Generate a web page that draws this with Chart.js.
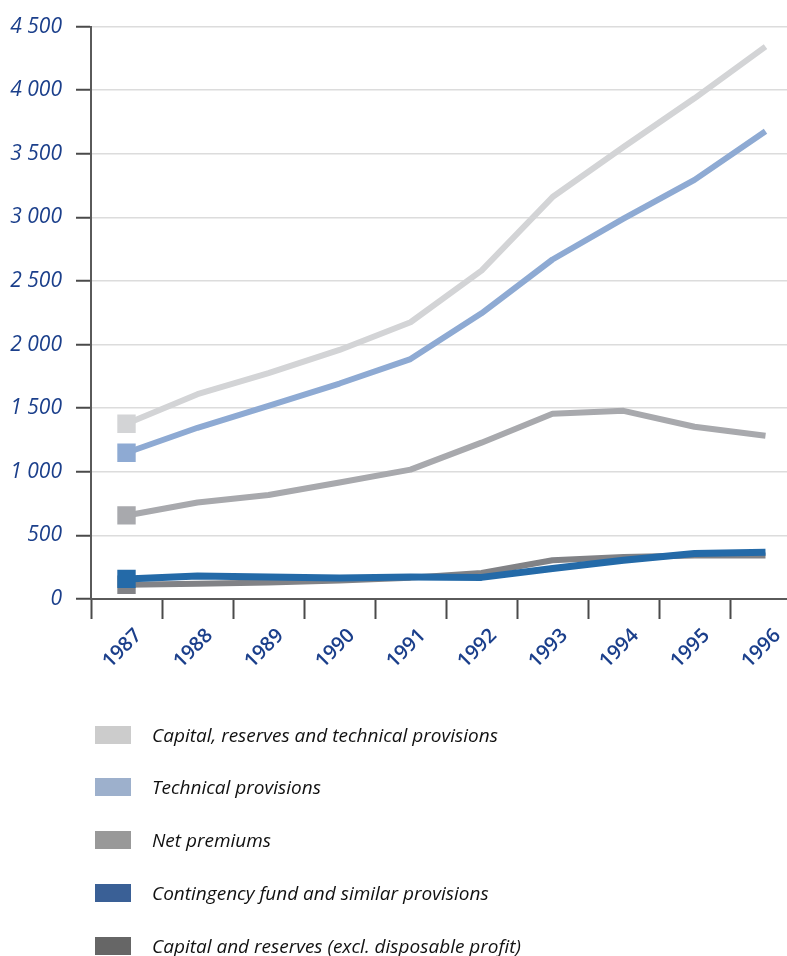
<!DOCTYPE html>
<html>
<head>
<meta charset="utf-8">
<script src="https://cdn.jsdelivr.net/npm/chart.js@4/dist/chart.umd.min.js"></script>
<style>
  html, body { margin: 0; padding: 0; background: #fff; overflow: hidden; width: 787px; height: 956px; }
  #wrap { position: absolute; left: 0; top: 0; width: 814px; height: 700px; }
  #legend { position: absolute; left: 0; top: 0; width: 787px; height: 956px; pointer-events: none; }
  .item { position: absolute; left: 95px; height: 18px; }
  .box { position: absolute; left: 0; top: 0; width: 36px; height: 18px; }
  .lab { position: absolute; left: 57px; top: -5px; white-space: nowrap; font-family: "Open Sans", sans-serif; font-style: italic; font-size: 19px; line-height: 28px; color: #111; }
</style>
</head>
<body>
<div id="wrap"><canvas id="c" width="814" height="700"></canvas></div>
<div id="legend"></div>
<script>
const years = ["1987","1988","1989","1990","1991","1992","1993","1994","1995","1996"];
const yTickValues = [0, 500, 1000, 1500, 2000, 2500, 3000, 3500, 4000, 4500];
const yTickLabels = ["0", "500", "1 000", "1 500", "2 000", "2 500", "3 000", "3 500", "4 000", "4 500"];

const seriesNames = [
  "Capital, reserves and technical provisions",
  "Technical provisions",
  "Net premiums",
  "Contingency fund and similar provisions",
  "Capital and reserves (excl. disposable profit)"
];
const capitalReservesTechnical = [1378, 1610, 1776, 1958, 2176, 2582, 3160, 3553, 3936, 4343];
const technicalProvisions     = [1150, 1346, 1518, 1694, 1886, 2246, 2669, 2990, 3295, 3678];
const netPremiums             = [657, 759, 818, 916, 1017, 1229, 1456, 1479, 1354, 1283];
const contingencyFund         = [158, 180, 172, 165, 172, 170, 240, 305, 358, 368];
const capitalReserves         = [112, 120, 130, 145, 168, 205, 305, 330, 342, 342];

const lineColors   = ["#d3d4d6", "#8eaad3", "#a8a9ad", "#246aa8", "#818286"];
const legendColors = ["#cccccc", "#9db0cc", "#999999", "#3a6096", "#666666"];
const lineWidths   = [6, 6, 6, 7, 6];
const seriesData = [capitalReservesTechnical, technicalProvisions, netPremiums, contingencyFund, capitalReserves];

const datasets = seriesData.map((d, i) => ({
  label: seriesNames[i],
  data: d,
  borderColor: lineColors[i],
  backgroundColor: lineColors[i],
  borderWidth: lineWidths[i],
  borderCapStyle: 'butt',
  borderJoinStyle: 'round',
  tension: 0,
  pointStyle: 'rect',
  pointRadius: d.map((v, k) => k === 0 ? 13 : 0),
  pointBorderWidth: 0,
  pointHoverRadius: 0,
  fill: false
}));

new Chart(document.getElementById('c'), {
  type: 'line',
  data: { labels: years, datasets },
  options: {
    responsive: false,
    animation: false,
    events: [],
    layout: { padding: { top: 22, right: 2, bottom: 1, left: 0 } },
    plugins: { legend: { display: false }, tooltip: { enabled: false } },
    scales: {
      x: {
        offset: true,
        grid: { offset: true, drawOnChartArea: false, drawTicks: true, tickLength: 20, tickColor: '#4a4a4a', tickWidth: 2 },
        border: { display: true, color: '#5a5a5a', width: 2 },
        ticks: {
          autoSkip: false, maxRotation: 45, minRotation: 45, labelOffset: 12, padding: 5,
          color: '#1b3f8b', font: { family: 'Open Sans', weight: '600', size: 20 }
        },
        afterFit: s => { s.height = 100; }
      },
      y: {
        min: 0, max: 4500,
        afterBuildTicks: s => { s.ticks = yTickValues.map(v => ({ value: v })); },
        grid: { color: '#dcdcdc', lineWidth: 1.5, tickLength: 15, tickColor: '#4a4a4a', tickWidth: 2 },
        border: { display: true, color: '#5a5a5a', width: 2 },
        ticks: {
          padding: 14,
          color: '#1b3f8b', font: { family: 'Open Sans', style: 'italic', weight: '500', size: 21 },
          callback: (v) => { const i = yTickValues.indexOf(v); return i >= 0 ? yTickLabels[i] : ''; }
        },
        afterFit: s => { s.width = 91; }
      }
    }
  }
});

const legend = document.getElementById('legend');
const rowTops = [726, 778, 831, 884, 937];
seriesNames.forEach((n, i) => {
  const it = document.createElement('div');
  it.className = 'item';
  it.style.top = rowTops[i] + 'px';
  const b = document.createElement('div');
  b.className = 'box';
  b.style.background = legendColors[i];
  const t = document.createElement('div');
  t.className = 'lab';
  t.textContent = n;
  it.appendChild(b); it.appendChild(t);
  legend.appendChild(it);
});
</script>
</body>
</html>
